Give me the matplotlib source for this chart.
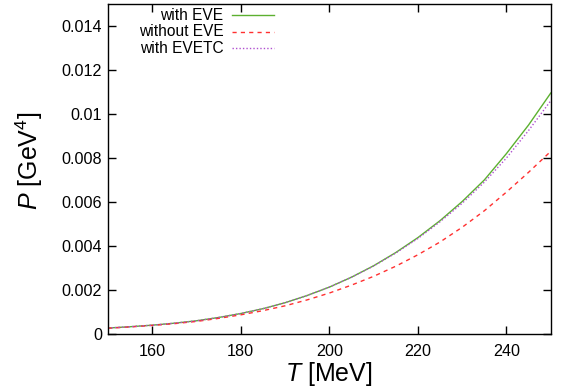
import matplotlib
matplotlib.use("Agg")
import matplotlib.pyplot as plt
from matplotlib.lines import Line2D
from matplotlib.ticker import FuncFormatter, MultipleLocator

plt.rcParams['font.family'] = ['Liberation Sans', 'DejaVu Sans']
plt.rcParams['mathtext.fontset'] = 'custom'
plt.rcParams['mathtext.rm'] = 'Liberation Sans'
plt.rcParams['mathtext.it'] = 'Liberation Sans:italic'

T = [150, 155, 160, 165, 170, 175, 180, 185, 190, 195, 200,
     205, 210, 215, 220, 225, 230, 235, 240, 245, 250]
P_with_eve = [0.00027, 0.00033, 0.00040, 0.00049, 0.00060, 0.00075, 0.00093,
              0.00115, 0.00142, 0.00175, 0.00213, 0.00258, 0.00310, 0.00370,
              0.00438, 0.00515, 0.00602, 0.00700, 0.00820, 0.00950, 0.01095]
P_without_eve = [0.00026, 0.00032, 0.00039, 0.00047, 0.00057, 0.00071, 0.00087,
                 0.00106, 0.00128, 0.00155, 0.00186, 0.00222, 0.00262, 0.00308,
                 0.00360, 0.00418, 0.00485, 0.00560, 0.00645, 0.00735, 0.00830]
P_with_evetc = [0.00027, 0.00033, 0.00040, 0.00049, 0.00060, 0.00075, 0.00093,
                0.00115, 0.00142, 0.00175, 0.00213, 0.00258, 0.00309, 0.00368,
                0.00434, 0.00510, 0.00594, 0.00690, 0.00800, 0.00925, 0.01060]
labels = ["with EVE", "without EVE", "with EVETC"]
colors = ["#5cb030", "#ff3030", "#b050d0"]
styles = ["-", (0, (3, 3)), (0, (1, 1.5))]

fig = plt.figure(figsize=(5.62, 3.92), dpi=100)
ax = fig.add_axes([0.192, 0.148, 0.788, 0.842])

series = [P_with_eve, P_without_eve, P_with_evetc]
for y, c, ls in zip(series, colors, styles):
    ax.plot(T, y, color=c, linestyle=ls, linewidth=1.0)

ax.set_xlim(150, 250)
ax.set_ylim(0, 0.015)
ax.xaxis.set_major_locator(MultipleLocator(20))
ax.yaxis.set_major_locator(MultipleLocator(0.002))
ax.yaxis.set_major_formatter(FuncFormatter(lambda v, p: '%g' % round(v, 6)))
ax.tick_params(direction='in', length=6, width=1, top=True, right=True,
               labelsize=11.6)
ax.tick_params(axis='y', pad=4)
ax.tick_params(axis='x', pad=7)
for s in ax.spines.values():
    s.set_linewidth(1.0)

ax.set_xlabel(r'$T$ [MeV]', fontsize=18, labelpad=1)
ax.set_ylabel(r'$P$ [GeV$^4$]', fontsize=18)
ax.yaxis.set_label_coords(-0.143, 0.525)

# legend: right-aligned text, sample on the right
y0 = 0.965
dy = 0.05
for i, (lab, c, ls) in enumerate(zip(labels, colors, styles)):
    yy = y0 - i * dy
    ax.text(0.261, yy, lab, transform=ax.transAxes, ha='right', va='center',
            fontsize=11.2)
    ax.add_line(Line2D([0.280, 0.375], [yy, yy], transform=ax.transAxes,
                       color=c, linestyle=ls, linewidth=1.0))

fig.savefig("out.png", dpi=100)
